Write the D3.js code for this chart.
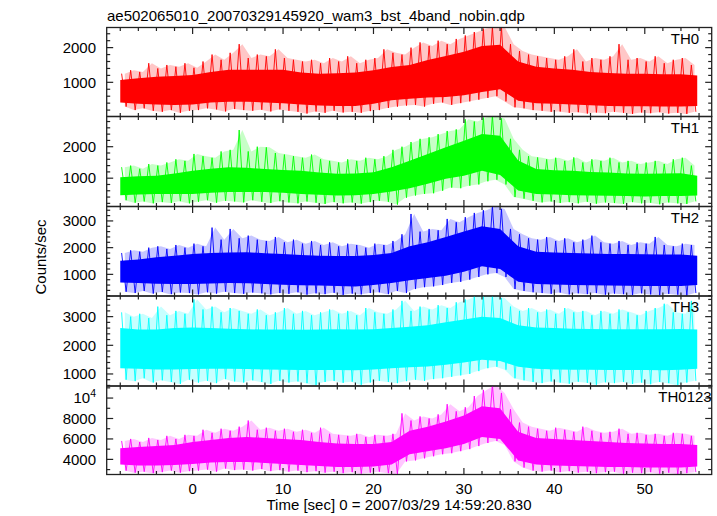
<!DOCTYPE html>
<html><head><meta charset="utf-8">
<script src="https://cdn.jsdelivr.net/npm/d3@7"></script>
<style>body{margin:0;background:#fff}svg{display:block}text{font-family:"Liberation Sans",Arial,sans-serif;fill:#000}</style>
</head><body><svg id="c" width="717" height="516"></svg>
<script>
// ---------- data ----------
const title = "ae502065010_20070329145920_wam3_bst_4band_nobin.qdp";
const xLabel = "Time [sec] 0 = 2007/03/29 14:59:20.830";
const yLabel = "Counts/sec";
const bandNames = ["TH0", "TH1", "TH2", "TH3", "TH0123"];
const bandColors = ["#ff0000", "#00ff00", "#0000ff", "#00ffff", "#ff00ff"];
const xTicks = [0, 10, 20, 30, 40, 50];
// core times (every 2 s, last bin end) and spike times (every 1 s)
const coreTimes = [-8,-6,-4,-2,0,2,4,6,8,10,12,14,16,18,20,22,24,26,28,30,32,34,36,38,40,42,44,46,48,50,52,54,55.8];
const spikeTimes = [-8,-7,-6,-5,-4,-3,-2,-1,0,1,2,3,4,5,6,7,8,9,10,11,12,13,14,15,16,17,18,19,20,21,22,23,24,25,26,27,28,29,30,31,32,33,34,35,36,37,38,39,40,41,42,43,44,45,46,47,48,49,50,51,52,53,54,55];

// TH0
const th0CoreHi = [1070,1120,1160,1180,1210,1300,1360,1360,1360,1360,1280,1250,1260,1280,1350,1440,1500,1640,1760,1880,2050,2080,1600,1450,1400,1360,1300,1270,1250,1250,1230,1230,1200];
const th0CoreLo = [420,380,360,350,360,420,440,440,420,400,360,330,320,320,380,480,530,560,580,630,720,800,470,400,380,360,340,320,310,310,300,300,320];
const th0SpikeHi = [1250,1350,1300,1550,1400,1500,1450,1550,1420,1600,1800,1650,1850,2100,1700,1800,1750,1950,1700,1650,1600,1650,1550,1700,1600,1750,1550,1650,1700,1950,1850,1800,2000,2150,2050,2200,2100,2250,2350,2450,2550,2600,2600,2100,1900,1800,1750,1700,1650,1750,1950,1600,1700,1650,1750,2100,1650,1700,1600,1750,1550,1650,1700,1500];
const th0SpikeLo = [300,200,250,180,150,200,120,180,200,250,220,160,230,200,180,210,160,220,180,150,100,160,120,180,130,150,120,170,200,260,300,330,350,300,380,420,350,400,450,500,550,600,450,280,250,200,180,150,160,120,140,100,130,110,150,120,90,130,110,140,100,120,90,150];
// TH1
const th1CoreHi = [1030,1060,1080,1150,1240,1300,1350,1330,1290,1260,1240,1180,1140,1150,1190,1350,1550,1770,1980,2190,2400,2350,1560,1290,1250,1240,1200,1180,1150,1140,1150,1160,1080];
const th1CoreLo = [460,480,500,500,500,540,560,560,560,540,500,470,450,460,500,580,680,820,980,1080,1240,1100,610,500,480,460,450,440,430,420,430,430,450];
const th1SpikeHi = [1350,1400,1300,1450,1400,1500,1600,1550,1770,1700,1650,1850,1900,2530,1850,2000,1980,1800,1750,1700,1650,1750,1600,1550,1500,1600,1550,1650,1600,1700,1900,2000,2150,2250,2300,2400,2500,2550,2870,2800,2930,2990,2900,2250,1900,1700,1660,1600,1650,1550,1660,1500,1600,1550,1650,1500,1550,1450,1500,1550,1450,1600,1650,1400];
const th1SpikeLo = [300,220,260,200,240,210,270,200,250,300,220,280,260,230,300,250,210,270,230,200,260,220,180,240,200,230,190,240,280,250,160,380,450,500,520,600,700,680,760,800,900,950,800,400,350,280,230,260,210,240,200,250,190,230,210,180,240,200,220,170,230,200,180,260];
// TH2
const th2CoreHi = [1510,1560,1640,1700,1760,1800,1820,1830,1790,1760,1720,1700,1690,1690,1720,1800,2050,2200,2400,2600,2800,2700,2050,1850,1820,1800,1780,1760,1760,1750,1740,1740,1700];
const th2CoreLo = [700,680,650,640,640,660,680,670,640,610,590,580,560,550,600,680,780,860,950,1100,1300,1200,720,640,620,600,590,580,570,560,560,560,600];
const th2SpikeHi = [1800,1900,1850,2000,2050,1950,2100,2000,2150,2050,2750,2300,2700,2350,2450,2300,2250,2400,2200,2300,2150,2250,2100,2200,2050,2150,2100,2000,2150,2100,2250,2500,3260,2600,2700,2650,3075,2950,3140,3300,3400,3560,3450,2700,2500,2350,2300,2400,2250,2350,2200,2300,2450,2200,2150,2250,2100,2200,2150,2400,2100,2050,2150,2100];
const th2SpikeLo = [350,300,380,280,340,260,320,300,250,330,280,350,300,270,320,290,250,300,270,330,240,290,260,310,230,280,250,300,330,260,380,300,450,520,550,600,680,720,800,900,1000,1050,900,450,380,330,300,270,320,250,290,260,300,240,280,260,230,290,250,220,270,240,200,300];
// TH3
const th3CoreHi = [2600,2550,2550,2600,2620,2600,2580,2560,2550,2550,2540,2550,2560,2550,2560,2600,2650,2700,2800,2900,3000,2950,2700,2620,2600,2580,2570,2560,2560,2560,2560,2570,2550];
const th3CoreLo = [1200,1180,1160,1160,1170,1180,1180,1170,1160,1150,1140,1140,1140,1130,1160,1200,1230,1260,1320,1400,1500,1450,1250,1180,1160,1150,1150,1140,1140,1140,1130,1150,1180];
const th3SpikeHi = [3150,3000,3100,2950,3350,3050,3200,3100,3600,3250,3350,3150,3300,3200,3100,3250,3050,3150,3300,3100,3200,3050,3150,3250,3100,3200,3050,3300,3150,3100,3250,3550,3200,3350,3250,3400,3300,3500,3600,3740,3740,3740,3650,3350,3200,3300,3150,3250,3100,3300,3150,3200,3050,3200,3100,3250,3150,3050,3200,3300,3450,3150,3100,3550];
const th3SpikeLo = [800,750,850,700,780,720,650,800,700,760,680,820,740,700,780,720,650,760,700,740,680,600,720,760,690,730,620,700,760,720,680,750,800,760,820,850,900,950,1000,1100,1200,1250,1150,850,780,720,680,740,700,660,730,690,620,710,680,720,650,700,640,720,680,610,700,760];
// TH0123
const th4CoreHi = [5100,5200,5300,5400,5700,5900,6100,6200,6100,6000,5900,5700,5550,5500,5500,5700,6800,7200,7700,8300,9200,9000,6700,6100,6000,5900,5800,5700,5600,5550,5500,5500,5400];
const th4CoreLo = [3500,3400,3400,3450,3550,3700,3750,3750,3650,3550,3450,3350,3250,3250,3300,3500,4500,4800,5100,5500,6200,6000,3900,3500,3400,3350,3300,3250,3250,3200,3200,3200,3300];
const th4SpikeHi = [5800,6000,5700,6100,5900,6300,6000,6400,6300,6900,6600,7000,6800,7200,7800,6900,7100,6800,7000,6700,6900,6600,7100,6500,6400,6300,6500,6200,6400,6300,6500,8500,7800,8200,8000,8400,9400,8700,9100,10200,10800,11300,10500,8900,7600,7200,7000,6800,7100,6900,6700,7200,6800,6600,6700,7000,6500,6600,6400,6500,6300,6600,6500,6300];
const th4SpikeLo = [2900,2700,2800,2650,2750,2900,2700,2850,2900,3000,2800,3100,2950,3000,2900,3050,2850,2950,2800,2900,2750,2850,2700,2800,2650,2750,2600,2700,2800,2650,2550,3800,3900,4100,4300,4500,4600,4800,5000,5300,5600,5800,5400,3800,3200,2900,2800,2900,2750,2850,2700,2800,2650,2750,2800,2600,2700,2650,2750,2600,2700,2550,2650,2750];

// y-axis settings per panel
const yDomains = [[15, 2580], [100, 2960], [190, 3540], [580, 3720], [2520, 11180]];
const yMajorTicks = [[1000, 2000], [1000, 2000], [1000, 2000, 3000], [1000, 2000, 3000], [4000, 6000, 8000, 10000]];
const yMinorStep = [200, 200, 200, 200, 1000];

const series = [
  {hi: th0CoreHi, lo: th0CoreLo, sHi: th0SpikeHi, sLo: th0SpikeLo},
  {hi: th1CoreHi, lo: th1CoreLo, sHi: th1SpikeHi, sLo: th1SpikeLo},
  {hi: th2CoreHi, lo: th2CoreLo, sHi: th2SpikeHi, sLo: th2SpikeLo},
  {hi: th3CoreHi, lo: th3CoreLo, sHi: th3SpikeHi, sLo: th3SpikeLo},
  {hi: th4CoreHi, lo: th4CoreLo, sHi: th4SpikeHi, sLo: th4SpikeLo}
];

// ---------- layout ----------
const L = 106.7, R = 711.7;
const panelEdges = [27.5, 116.5, 206.5, 296, 386, 474.5];
const svg = d3.select("#c");
const x = d3.scaleLinear().domain([-9.5, 57.4]).range([L, R]);
const axisColor = "#222";
const majLen = 6.5, minLen = 3.5;

svg.append("text").attr("x", 107).attr("y", 21).attr("font-size", 15).text(title);

const xMinor = d3.range(-8, 57, 2);

series.forEach((s, i) => {
  const top = panelEdges[i], bot = panelEdges[i + 1];
  const y = d3.scaleLinear().domain(yDomains[i]).range([bot, top]);
  const g = svg.append("g");
  const clipId = "clip" + i;
  svg.append("clipPath").attr("id", clipId).append("rect")
    .attr("x", L).attr("y", top).attr("width", R - L).attr("height", bot - top);
  const dg = g.append("g").attr("clip-path", `url(#${clipId})`);
  const col = bandColors[i];
  const lastT = coreTimes[coreTimes.length - 1];
  const tx = (t) => x(Math.min(t, lastT));
  // outer (spike) envelope as a light halo
  const halo = d3.area()
    .x((d, k) => tx(spikeTimes[k] + 0.5))
    .y0((d, k) => y(s.sLo[k])).y1((d, k) => y(s.sHi[k]));
  dg.append("path").attr("d", halo(spikeTimes)).attr("fill", col).attr("fill-opacity", 0.22);
  // core band
  const area = d3.area().x((d, k) => x(coreTimes[k])).y0((d, k) => y(s.lo[k])).y1((d, k) => y(s.hi[k]));
  dg.append("path").attr("d", area(coreTimes)).attr("fill", col);
  // spikes: within each 1 s bin the curve goes from its max to its min
  const pts = [];
  spikeTimes.forEach((t, k) => { pts.push([t + 0.15, s.sHi[k]]); pts.push([t + 0.65, s.sLo[k]]); });
  const line = d3.line().x(d => tx(d[0])).y(d => y(d[1]));
  dg.append("path").attr("d", line(pts)).attr("fill", "none").attr("stroke", col).attr("stroke-width", 0.9);

  // frame
  g.append("rect").attr("x", L).attr("y", top).attr("width", R - L).attr("height", bot - top)
    .attr("fill", "none").attr("stroke", axisColor).attr("stroke-width", 1.3);
  // x ticks top & bottom
  xMinor.forEach(t => {
    const len = (t % 10 === 0) ? majLen : minLen;
    const xx = x(t);
    g.append("line").attr("x1", xx).attr("x2", xx).attr("y1", top).attr("y2", top + len).attr("stroke", axisColor).attr("stroke-width", 1.2);
    g.append("line").attr("x1", xx).attr("x2", xx).attr("y1", bot).attr("y2", bot - len).attr("stroke", axisColor).attr("stroke-width", 1.2);
  });
  // y ticks
  const [d0, d1] = yDomains[i];
  const minors = d3.range(Math.ceil(d0 / yMinorStep[i]) * yMinorStep[i], d1 + 1, yMinorStep[i]);
  minors.forEach(v => {
    const isMaj = yMajorTicks[i].includes(v);
    const len = isMaj ? majLen : minLen;
    const yy = y(v);
    g.append("line").attr("x1", L).attr("x2", L + len).attr("y1", yy).attr("y2", yy).attr("stroke", axisColor).attr("stroke-width", 1.2);
    g.append("line").attr("x1", R).attr("x2", R - len).attr("y1", yy).attr("y2", yy).attr("stroke", axisColor).attr("stroke-width", 1.2);
  });
  yMajorTicks[i].forEach(v => {
    const t = g.append("text").attr("x", 96).attr("y", y(v) + 5.3).attr("text-anchor", "end").attr("font-size", 15);
    if (v === 10000) {
      t.append("tspan").text("10");
      t.append("tspan").attr("font-size", 10.5).attr("dy", -6).text("4");
    } else {
      t.text(String(v));
    }
  });
  // band label
  g.append("text").attr("x", 685).attr("y", top + 16.3).attr("text-anchor", "middle").attr("font-size", 15).text(bandNames[i]);
  // x tick labels on bottom panel
  if (i === series.length - 1) {
    xTicks.forEach(t => {
      g.append("text").attr("x", x(t)).attr("y", 494).attr("text-anchor", "middle").attr("font-size", 15).text(String(t));
    });
  }
});

svg.append("text").attr("x", 399).attr("y", 510).attr("text-anchor", "middle").attr("font-size", 15).text(xLabel);
svg.append("text").attr("transform", "translate(46,257) rotate(-90)").attr("text-anchor", "middle").attr("font-size", 15).text(yLabel);
</script>
</body></html>
